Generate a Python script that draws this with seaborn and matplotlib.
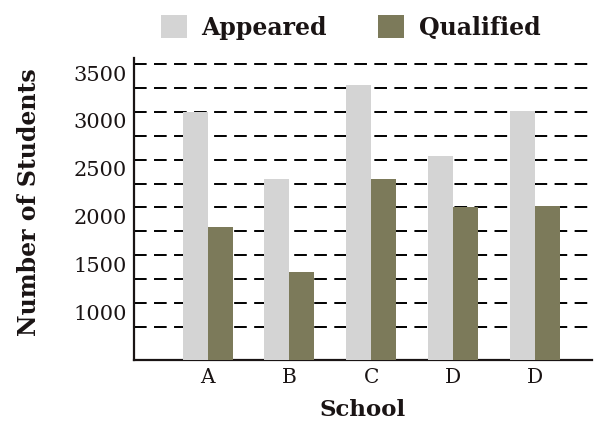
import matplotlib
matplotlib.use("Agg")
import matplotlib.pyplot as plt
import matplotlib.transforms as mtransforms
import seaborn as sns
import pandas as pd

# ---- data ----
schools = ["A", "B", "C", "D", "D"]
appeared = [3000, 2300, 3280, 2540, 3010]
qualified = [1800, 1330, 2300, 2010, 2020]
series_names = ["Appeared", "Qualified"]
major_ticks = [1000, 1500, 2000, 2500, 3000, 3500]
minor_ticks = [750, 1250, 1750, 2250, 2750, 3250]

rows = []
for i, s in enumerate(schools):
    rows.append({"slot": i, "series": series_names[0], "value": appeared[i]})
    rows.append({"slot": i, "series": series_names[1], "value": qualified[i]})
df = pd.DataFrame(rows)

sns.set_theme(style="white")
plt.rcParams["font.family"] = ["DejaVu Serif"]

fig = plt.figure(figsize=(5.94, 4.24), dpi=100)
ax = fig.add_axes([134 / 594, 1 - 360 / 424, (592 - 134) / 594, (360 - 58) / 424])

palette = {"Appeared": "#d4d4d4", "Qualified": "#7c7a5a"}
sns.barplot(data=df, x="slot", y="value", hue="series", order=list(range(len(schools))),
            hue_order=series_names, palette=palette, width=0.61, saturation=1,
            errorbar=None, ax=ax, zorder=3, linewidth=0, edgecolor="none")

ax.set_xlim(-0.9, 4.7)
ax.set_ylim(405, 3563)
ax.set_axisbelow(True)

ax.set_yticks(major_ticks)
ax.set_yticklabels([str(v) for v in major_ticks], fontsize=15, color="#1a1414")
ax.set_yticks(minor_ticks, minor=True)
ax.grid(True, axis="y", which="both", color="black", linestyle=(0, (6.5, 3.8)),
        linewidth=1.4, zorder=0)
ax.grid(False, axis="x")
ax.tick_params(axis="y", which="both", length=0, pad=5)
ax.tick_params(axis="x", length=0, pad=6)

# shift y tick labels slightly down like the hand-drawn original
offset = mtransforms.ScaledTranslation(0, -9 / 100, fig.dpi_scale_trans)
for lbl in ax.get_yticklabels():
    lbl.set_transform(lbl.get_transform() + offset)

ax.set_xticks(range(len(schools)))
ax.set_xticklabels(schools, fontsize=14.5, color="#1a1414")

for side in ["top", "right"]:
    ax.spines[side].set_visible(False)
for side in ["left", "bottom"]:
    ax.spines[side].set_color("#1a1414")
    ax.spines[side].set_linewidth(1.6)

ax.set_xlabel("School", fontsize=16.5, fontweight="bold", color="#1a1414")
ax.xaxis.set_label_coords((363 - 134) / 458, -(399 - 360) / 302)
ax.set_ylabel("Number of Students", fontsize=17, fontweight="bold", color="#1a1414")
ax.yaxis.set_label_coords((41 - 134) / 458, (360 - 202) / 302)

sns.move_legend(ax, "center", bbox_to_anchor=(0.59, 0.935), bbox_transform=fig.transFigure,
                ncol=2, frameon=False, title=None, fontsize=17,
                handlelength=1.1, handleheight=1.1, handletextpad=0.6, columnspacing=2.2)
for t in ax.get_legend().get_texts():
    t.set_fontweight("bold")
    t.set_color("#1a1414")

fig.savefig("out.png", dpi=100)
